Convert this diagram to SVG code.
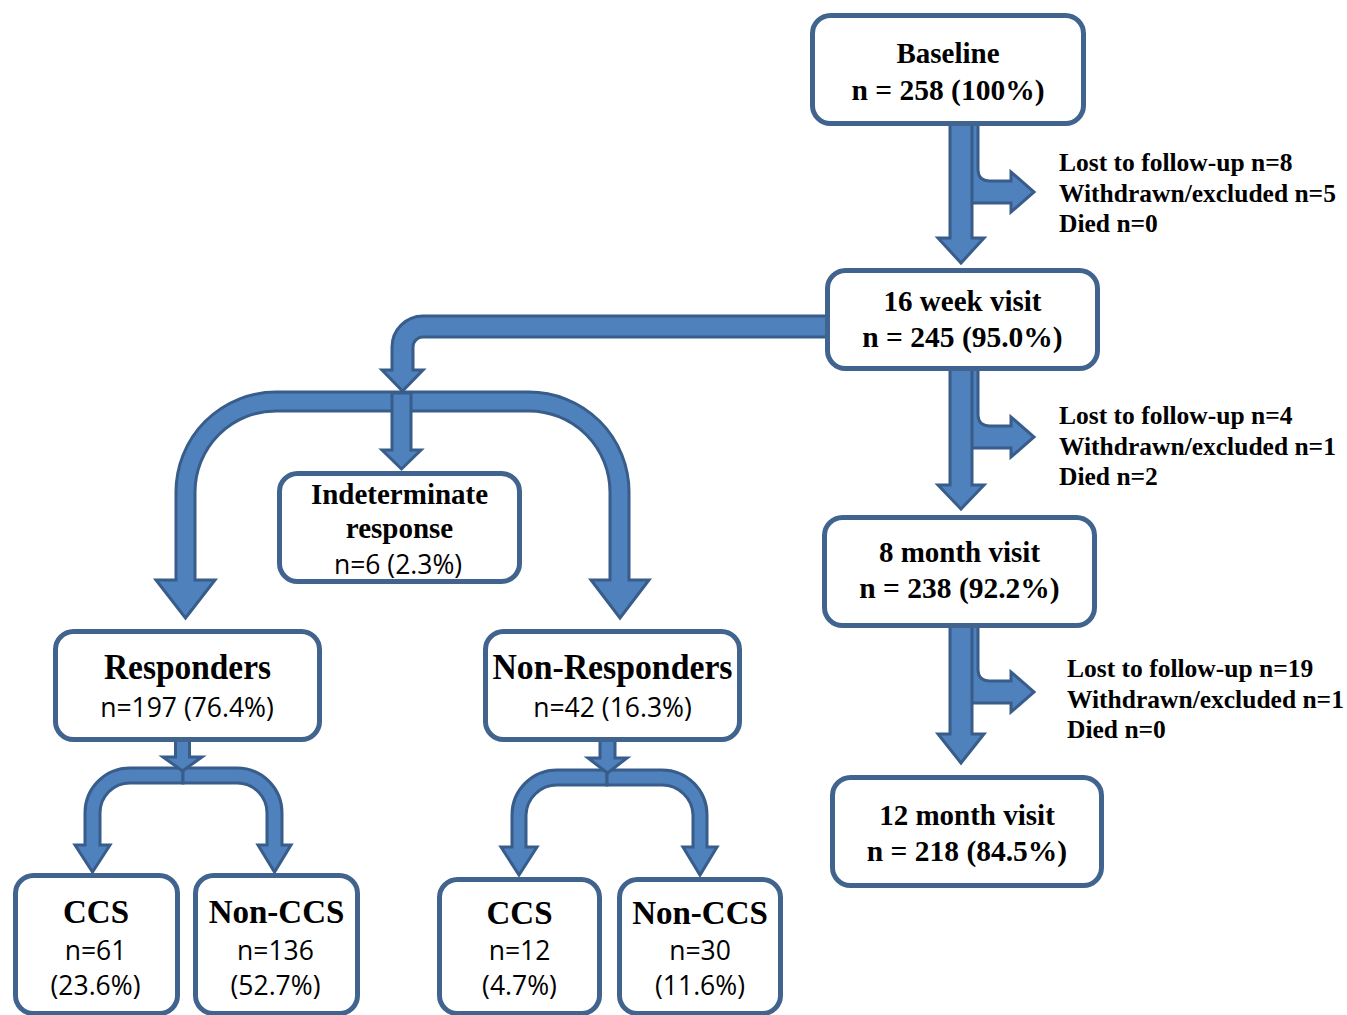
<svg xmlns="http://www.w3.org/2000/svg" width="1347" height="1015" viewBox="0 0 1347 1015">
<style>
.arr{fill:#4F81BD;stroke:#385D8A;stroke-width:3;stroke-linejoin:miter}
.box{fill:#FFFFFF;stroke:#41648F;stroke-width:5}
.b{font-family:"Liberation Serif","Times New Roman",serif;font-weight:bold;fill:#000;text-anchor:middle}
.s{font-family:"Open Sans","DejaVu Sans",sans-serif;fill:#000;text-anchor:middle;font-size:26.5px}
.side{font-family:"Liberation Serif","Times New Roman",serif;font-weight:bold;font-size:25.5px;fill:#000}
</style>
<rect width="1347" height="1015" fill="#FFFFFF"/>
<g id="connectors">
  <path class="arr" d="M956,120 H978 V169 Q978,181 990,181 H1011 V172 L1034,192 L1011,212 V203 H956 Z"/>
  <path class="arr" d="M956,365 H978 V414 Q978,426 990,426 H1011 V417 L1034,437 L1011,457 V448 H956 Z"/>
  <path class="arr" d="M956,622 H978 V669 Q978,681 990,681 H1011 V672 L1034,692 L1011,712 V703 H956 Z"/>
  <path class="arr" d="M950,120 V238 H938 L961,263 L984,238 H972 V120 Z"/>
  <path class="arr" d="M950,365 V485 H938 L961,509 L984,485 H972 V365 Z"/>
  <path class="arr" d="M950,622 V734 H938 L961,763 L984,734 H972 V622 Z"/>
  <path class="arr" d="M830,316 H423 A31 31 0 0 0 392,347 V370 H382 L402.5,391 L423,370 H413 V347 A10 10 0 0 1 423,337 H830 Z"/>
  <path class="arr" d="M402,392 H276 A100 100 0 0 0 176,492 V580 H156 L185.5,618 L215,580 H195 V492 A81 81 0 0 1 276,411 H402 Z"/>
  <path class="arr" d="M402,392 H529 A100 100 0 0 1 629,492 V580 H649 L620,618 L591,580 H610 V492 A81 81 0 0 0 529,411 H402 Z"/>
  <path class="arr" d="M392,393 V450 H382 L401.5,469 L421,450 H411 V393 Z"/>
  <path class="arr" d="M183,768 H130 A45 45 0 0 0 85,813 V845 H75 L92.5,872 L110,845 H100 V813 A30 30 0 0 1 130,783 H183 Z"/>
  <path class="arr" d="M183,768 H237 A45 45 0 0 1 282,813 V845 H291 L274.5,872 L258,845 H267 V813 A30 30 0 0 0 237,783 H183 Z"/>
  <path class="arr" d="M175.5,738 V757 H163 L182.5,771 L202,757 H189.5 V738 Z"/>
  <path class="arr" d="M607,770 H557 A45 45 0 0 0 512,815 V847 H501 L519,875 L537,847 H526 V815 A31 31 0 0 1 557,785 H607 Z"/>
  <path class="arr" d="M607,770 H662 A45 45 0 0 1 707,815 V847 H717 L700,875 L683,847 H693 V815 A31 31 0 0 0 662,785 H607 Z"/>
  <path class="arr" d="M600,738 V758 H588 L607.5,773 L627,758 H615 V738 Z"/>
</g>
<g id="baseline">
  <rect class="box" x="812.5" y="15.5" width="271" height="108" rx="18"/>
  <text class="b" x="948" y="63" font-size="29">Baseline</text>
  <text class="b" x="948" y="100" font-size="29.5">n = 258 (100%)</text>
</g>
<g id="week16">
  <rect class="box" x="827.5" y="270.5" width="270" height="98" rx="18"/>
  <text class="b" x="962.5" y="311" font-size="29">16 week visit</text>
  <text class="b" x="962.5" y="347" font-size="29.5">n = 245 (95.0%)</text>
</g>
<g id="month8">
  <rect class="box" x="824.5" y="517.5" width="270" height="108" rx="18"/>
  <text class="b" x="959.5" y="562" font-size="29">8 month visit</text>
  <text class="b" x="959.5" y="598" font-size="29.5">n = 238 (92.2%)</text>
</g>
<g id="month12">
  <rect class="box" x="832.5" y="777.5" width="269" height="108" rx="18"/>
  <text class="b" x="967" y="825" font-size="29">12 month visit</text>
  <text class="b" x="967" y="861" font-size="29.5">n = 218 (84.5%)</text>
</g>
<g id="lost1">
  <text class="side" x="1059" y="171">Lost to follow-up n=8</text>
  <text class="side" x="1059" y="202">Withdrawn/excluded n=5</text>
  <text class="side" x="1059" y="232">Died n=0</text>
</g>
<g id="lost2">
  <text class="side" x="1059" y="424">Lost to follow-up n=4</text>
  <text class="side" x="1059" y="455">Withdrawn/excluded n=1</text>
  <text class="side" x="1059" y="485">Died n=2</text>
</g>
<g id="lost3">
  <text class="side" x="1067" y="677">Lost to follow-up n=19</text>
  <text class="side" x="1067" y="708">Withdrawn/excluded n=1</text>
  <text class="side" x="1067" y="738">Died n=0</text>
</g>
<g id="indeterminate">
  <rect class="box" x="279.5" y="473.5" width="240" height="108" rx="18"/>
  <text class="b" x="399.5" y="504" font-size="29">Indeterminate</text>
  <text class="b" x="399.5" y="538" font-size="29">response</text>
  <text class="s" x="398" y="574">n=6 (2.3%)</text>
</g>
<g id="responders">
  <rect class="box" x="55.5" y="631.5" width="264" height="108" rx="18"/>
  <text class="b" x="187.5" y="679" font-size="36" textLength="167" lengthAdjust="spacingAndGlyphs">Responders</text>
  <text class="s" x="187" y="717">n=197 (76.4%)</text>
</g>
<g id="nonresponders">
  <rect class="box" x="485.5" y="631.5" width="254" height="108" rx="18"/>
  <text class="b" x="612.5" y="679" font-size="36" textLength="240" lengthAdjust="spacingAndGlyphs">Non-Responders</text>
  <text class="s" x="612.5" y="717">n=42 (16.3%)</text>
</g>
<g id="ccs-r">
  <rect class="box" x="15.5" y="875.5" width="162" height="138" rx="18"/>
  <text class="b" x="96" y="923" font-size="33">CCS</text>
  <text class="s" x="95.5" y="960">n=61</text>
  <text class="s" x="95.5" y="995">(23.6%)</text>
</g>
<g id="nonccs-r">
  <rect class="box" x="195.5" y="875.5" width="162" height="138" rx="18"/>
  <text class="b" x="276.5" y="923" font-size="33">Non-CCS</text>
  <text class="s" x="275.5" y="960">n=136</text>
  <text class="s" x="275.5" y="995">(52.7%)</text>
</g>
<g id="ccs-n">
  <rect class="box" x="439.5" y="879.5" width="160" height="134" rx="18"/>
  <text class="b" x="519.5" y="924" font-size="33">CCS</text>
  <text class="s" x="519.5" y="960">n=12</text>
  <text class="s" x="519.5" y="995">(4.7%)</text>
</g>
<g id="nonccs-n">
  <rect class="box" x="619.5" y="879.5" width="161" height="134" rx="18"/>
  <text class="b" x="700" y="924" font-size="33">Non-CCS</text>
  <text class="s" x="700" y="960">n=30</text>
  <text class="s" x="700" y="995">(11.6%)</text>
</g>
</svg>
